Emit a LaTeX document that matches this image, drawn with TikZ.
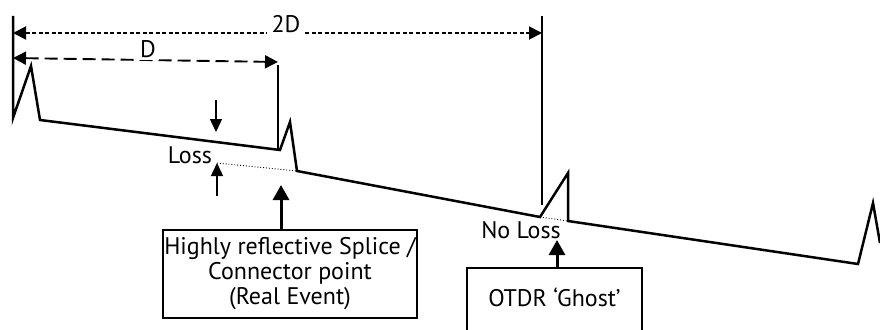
\documentclass[tikz,border=0pt]{standalone}
\usepackage{fontspec}
\setmainfont{PT Sans}
\usetikzlibrary{arrows.meta}

\tikzset{
    trace/.style={line width=2.5pt, line join=miter},
    marker/.style={line width=2.3pt},
    dimarrow/.style={line width=1.9pt, {Triangle[length=13pt,width=13pt]}-{Triangle[length=13pt,width=13pt]}},
    lossarrow/.style={line width=1.4pt, -{Triangle[length=13pt,width=12pt]}},
    bigarrow/.style={line width=3pt, -{Triangle[length=15pt,width=16pt]}},
    infobox/.style={draw, line width=2.3pt, align=center, inner sep=0pt}
}

\begin{document}
\begin{tikzpicture}[x=1pt, y=-1pt, font=\fontsize{24}{25}\selectfont]
    \clip (0,0) rectangle (880,329);

    \draw [trace] (13,16) coordinate (m_0) -- (13,118) -- (31,66) -- (40,120)
        -- (280,150) coordinate (r_1) -- (290,122) -- (297,171) coordinate (r_2)
        -- (540,217) coordinate (g_1) -- (568,173) -- (568,221) coordinate (g_2)
        -- (858,264) -- (873,203) -- (880,243);

    \draw [marker] (278,65) coordinate (m_1) -- (278,149);
    \draw [marker] (542,16) coordinate (m_2) -- (542,205);

    \draw [dimarrow, dash pattern=on 4pt off 2.5pt] (13,33) -- (542,33);
    \node (twoD) [fill=white, anchor=base, inner xsep=5pt, inner ysep=2pt] at (286,33) {2D};
    \draw [dimarrow, dash pattern=on 13pt off 6pt] (13,58) -- (278,62);
    \node (oneD) [fill=white, anchor=base, inner xsep=3pt, inner ysep=2pt] at (148,58) {D};

    \draw [line width=0.9pt, dotted] (217,163) -- (r_2);
    \draw [line width=0.9pt, dotted] (g_1) -- (g_2);

    \node (loss) [anchor=base] at (190,163) {Loss};
    \draw [lossarrow] (216,100) -- (216,132);
    \draw [lossarrow] (217,196) -- (217,163);

    \node (noloss) [anchor=base] at (521,238) {No Loss};

    \node (real) [infobox, minimum width=254pt, minimum height=88pt] at (290,274)
        {Highly reflective Splice /\\Connector point\\(Real Event)};
    \node (ghost) [infobox, anchor=north, minimum width=175pt, text height=17pt,
        text depth=60pt, inner ysep=21pt] at (554.5,267) {OTDR `Ghost'};

    \coordinate (r_tip) at (281,185);
    \coordinate (g_tip) at (557,240);
    \draw [bigarrow] (real.north -| r_tip) -- (r_tip);
    \draw [bigarrow] (ghost.north -| g_tip) -- (g_tip);
\end{tikzpicture}
\end{document}
